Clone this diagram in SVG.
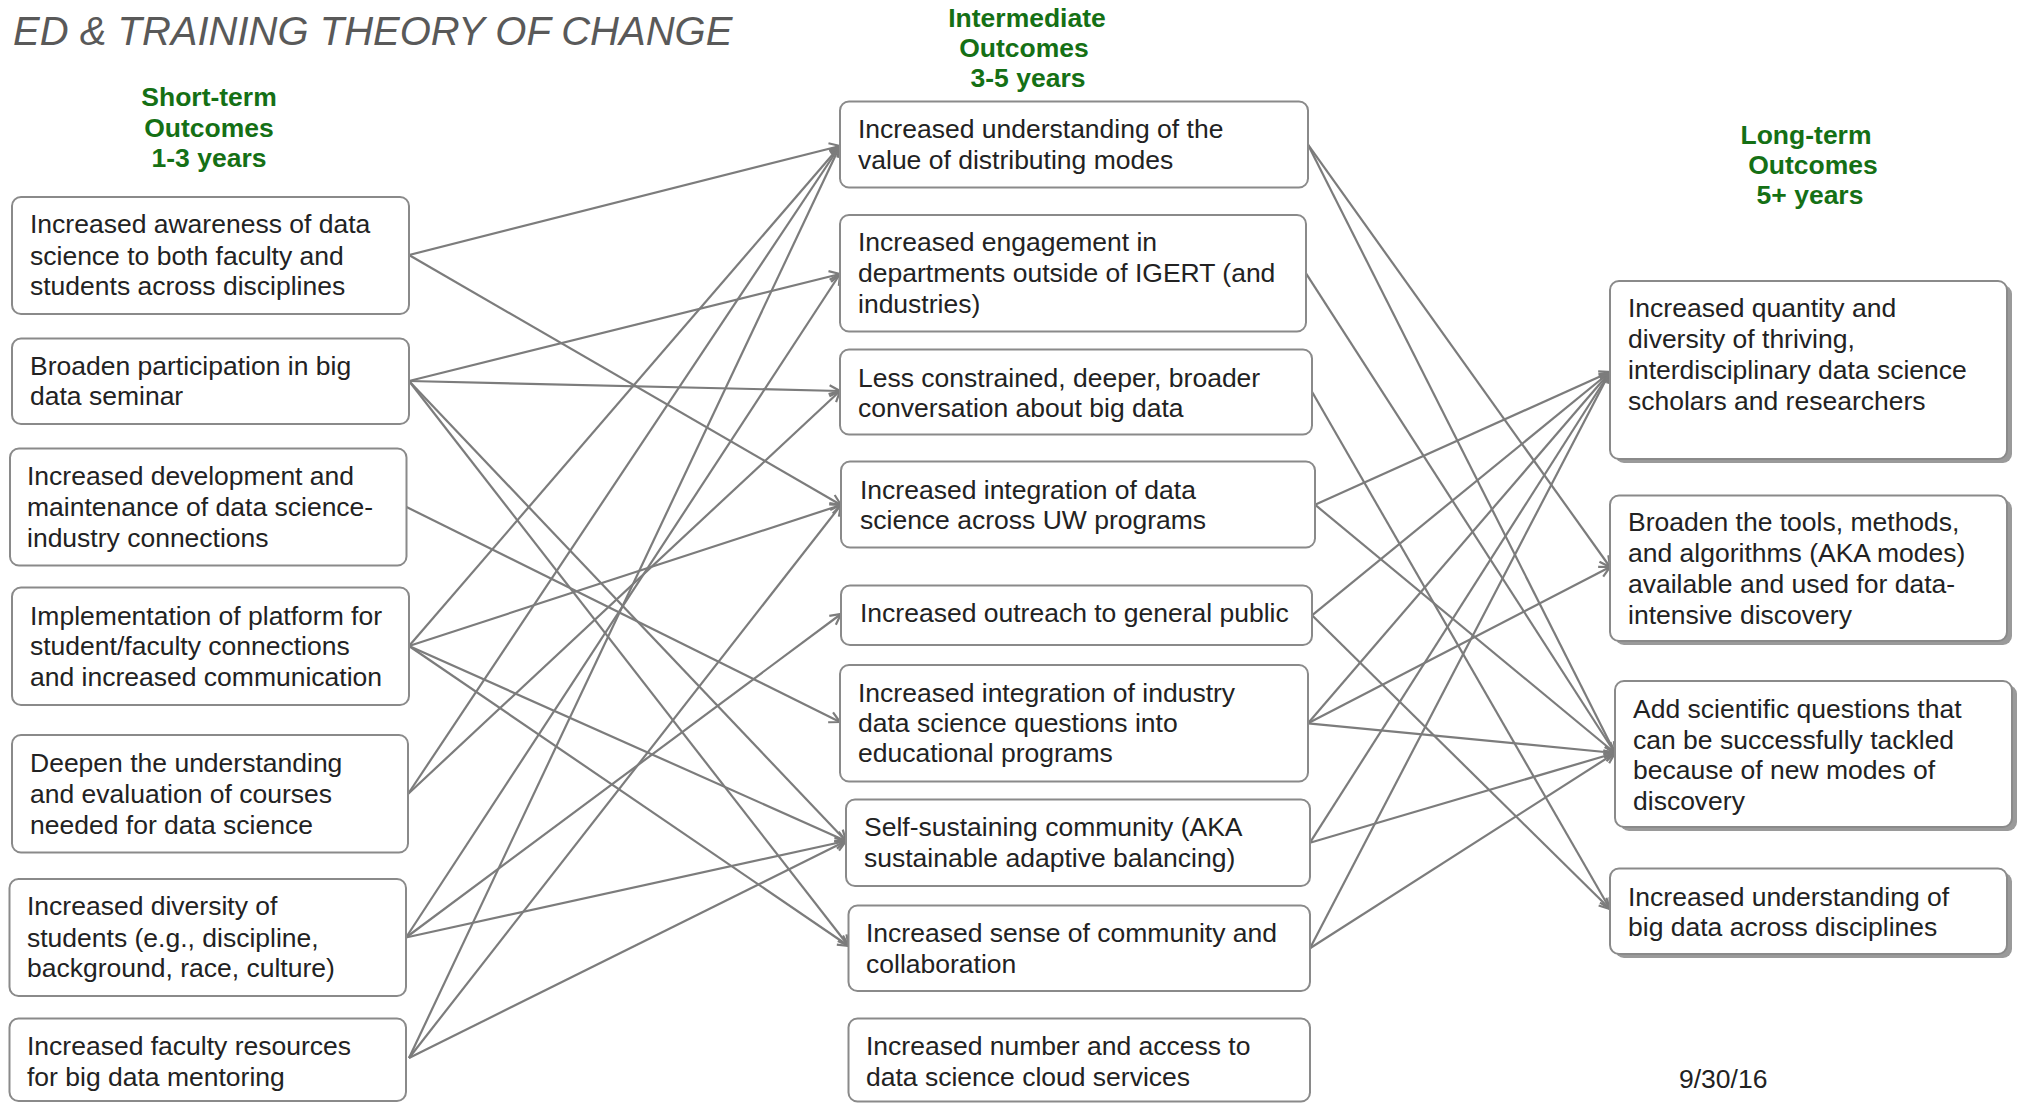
<svg xmlns="http://www.w3.org/2000/svg" width="2025" height="1103" viewBox="0 0 2025 1103">
<style>
.box{fill:#fff;stroke:#8a8a8a;stroke-width:2}
.shadow{fill:#9a9a9a;stroke:none}
.t{font-family:"Liberation Sans",Arial,sans-serif;font-size:26.5px;fill:#222}
.h{font-family:"Liberation Sans",Arial,sans-serif;font-size:26.5px;font-weight:bold;fill:#157015;text-anchor:middle}
.title{font-family:"Liberation Sans",Arial,sans-serif;font-size:40px;font-style:italic;fill:#595959}
.c{stroke:#7c7c7c;stroke-width:2.2;fill:none;marker-end:url(#arr)}
</style>
<defs>
<marker id="arr" markerUnits="userSpaceOnUse" markerWidth="14" markerHeight="14" refX="12" refY="7" orient="auto">
<path d="M1.5,1.5 L12,7 L1.5,12.5" fill="none" stroke="#7c7c7c" stroke-width="2.2"/>
</marker>
</defs>
<rect width="2025" height="1103" fill="#fff"/>
<text class="title" x="13" y="45">ED &amp; TRAINING THEORY OF CHANGE</text>
<g id="headings">
<text class="h" x="209" y="106">Short-term</text>
<text class="h" x="209" y="137">Outcomes</text>
<text class="h" x="209" y="167">1-3 years</text>
<text class="h" x="1027" y="27">Intermediate</text>
<text class="h" x="1024" y="57">Outcomes</text>
<text class="h" x="1028" y="87">3-5 years</text>
<text class="h" x="1806" y="144">Long-term</text>
<text class="h" x="1813" y="174">Outcomes</text>
<text class="h" x="1810" y="204">5+ years</text>
</g>
<g id="connectors">
<line class="c" x1="409" y1="255" x2="840" y2="146"/>
<line class="c" x1="409" y1="255" x2="841" y2="505"/>
<line class="c" x1="409" y1="381" x2="840" y2="274"/>
<line class="c" x1="409" y1="381" x2="840" y2="391"/>
<line class="c" x1="409" y1="381" x2="846" y2="841"/>
<line class="c" x1="409" y1="381" x2="848.6" y2="946"/>
<line class="c" x1="406.5" y1="507" x2="840" y2="722"/>
<line class="c" x1="409" y1="646" x2="840" y2="146"/>
<line class="c" x1="409" y1="646" x2="841" y2="505"/>
<line class="c" x1="409" y1="646" x2="846" y2="841"/>
<line class="c" x1="409" y1="646" x2="848.6" y2="946"/>
<line class="c" x1="408" y1="794" x2="840" y2="146"/>
<line class="c" x1="408" y1="794" x2="840" y2="391"/>
<line class="c" x1="406" y1="937.5" x2="840" y2="274"/>
<line class="c" x1="406" y1="937.5" x2="841" y2="614"/>
<line class="c" x1="406" y1="937.5" x2="846" y2="841"/>
<line class="c" x1="409" y1="1058" x2="840" y2="146"/>
<line class="c" x1="409" y1="1058" x2="841" y2="505"/>
<line class="c" x1="409" y1="1058" x2="846" y2="841"/>
<line class="c" x1="1308" y1="144.7" x2="1610" y2="567"/>
<line class="c" x1="1308" y1="144.7" x2="1615" y2="753"/>
<line class="c" x1="1306" y1="273.3" x2="1615" y2="753"/>
<line class="c" x1="1312" y1="391.8" x2="1610" y2="909"/>
<line class="c" x1="1315" y1="504.7" x2="1610" y2="372"/>
<line class="c" x1="1315" y1="504.7" x2="1615" y2="753"/>
<line class="c" x1="1312" y1="615.3" x2="1610" y2="372"/>
<line class="c" x1="1312" y1="615.3" x2="1610" y2="909"/>
<line class="c" x1="1308" y1="723.3" x2="1610" y2="372"/>
<line class="c" x1="1308" y1="723.3" x2="1610" y2="567"/>
<line class="c" x1="1308" y1="723.3" x2="1615" y2="753"/>
<line class="c" x1="1310" y1="842.7" x2="1610" y2="372"/>
<line class="c" x1="1310" y1="842.7" x2="1615" y2="753"/>
<line class="c" x1="1310" y1="948.3" x2="1610" y2="372"/>
<line class="c" x1="1310" y1="948.3" x2="1615" y2="753"/>
</g>
<g id="L1"><rect class="box" x="12" y="197" width="397" height="117" rx="9"/>
<text class="t" x="30" y="233">Increased awareness of data</text>
<text class="t" x="30" y="264.5">science to both faculty and</text>
<text class="t" x="30" y="295">students across disciplines</text></g>
<g id="L2"><rect class="box" x="12" y="338.5" width="397" height="85.5" rx="9"/>
<text class="t" x="30" y="375">Broaden participation in big</text>
<text class="t" x="30" y="405">data seminar</text></g>
<g id="L3"><rect class="box" x="10" y="448.5" width="396.5" height="117" rx="9"/>
<text class="t" x="27" y="485">Increased development and</text>
<text class="t" x="27" y="516">maintenance of data science-</text>
<text class="t" x="27" y="546.5">industry connections</text></g>
<g id="L4"><rect class="box" x="12" y="587.5" width="397" height="117.5" rx="9"/>
<text class="t" x="30" y="625">Implementation of platform for</text>
<text class="t" x="30" y="655">student/faculty connections</text>
<text class="t" x="30" y="685.5">and increased communication</text></g>
<g id="L5"><rect class="box" x="12" y="735" width="396" height="117.5" rx="9"/>
<text class="t" x="30" y="771.5">Deepen the understanding</text>
<text class="t" x="30" y="802.5">and evaluation of courses</text>
<text class="t" x="30" y="833.5">needed for data science</text></g>
<g id="L6"><rect class="box" x="9.5" y="879" width="396.5" height="117" rx="9"/>
<text class="t" x="27" y="915">Increased diversity of</text>
<text class="t" x="27" y="946.5">students (e.g., discipline,</text>
<text class="t" x="27" y="977">background, race, culture)</text></g>
<g id="L7"><rect class="box" x="9.5" y="1018.5" width="396.5" height="82.5" rx="9"/>
<text class="t" x="27" y="1055">Increased faculty resources</text>
<text class="t" x="27" y="1086">for big data mentoring</text></g>
<g id="M1"><rect class="box" x="840" y="101.5" width="468" height="86" rx="9"/>
<text class="t" x="858" y="138">Increased understanding of the</text>
<text class="t" x="858" y="168.5">value of distributing modes</text></g>
<g id="M2"><rect class="box" x="840" y="215" width="466" height="116.5" rx="9"/>
<text class="t" x="858" y="251">Increased engagement in</text>
<text class="t" x="858" y="281.5">departments outside of IGERT (and</text>
<text class="t" x="858" y="312.5">industries)</text></g>
<g id="M3"><rect class="box" x="840" y="349.5" width="472" height="85" rx="9"/>
<text class="t" x="858" y="386.5">Less constrained, deeper, broader</text>
<text class="t" x="858" y="416.5">conversation about big data</text></g>
<g id="M4"><rect class="box" x="841" y="461.5" width="474" height="86" rx="9"/>
<text class="t" x="860" y="498.5">Increased integration of data</text>
<text class="t" x="860" y="528.5">science across UW programs</text></g>
<g id="M5"><rect class="box" x="841" y="585.5" width="471" height="59.5" rx="9"/>
<text class="t" x="860" y="621.5">Increased outreach to general public</text></g>
<g id="M6"><rect class="box" x="840" y="665" width="468" height="116.5" rx="9"/>
<text class="t" x="858" y="701.5">Increased integration of industry</text>
<text class="t" x="858" y="731.5">data science questions into</text>
<text class="t" x="858" y="762">educational programs</text></g>
<g id="M7"><rect class="box" x="846" y="799.5" width="464" height="86.5" rx="9"/>
<text class="t" x="864" y="836">Self-sustaining community (AKA</text>
<text class="t" x="864" y="866.5">sustainable adaptive balancing)</text></g>
<g id="M8"><rect class="box" x="848.5" y="905.5" width="461.5" height="85.5" rx="9"/>
<text class="t" x="866" y="942">Increased sense of community and</text>
<text class="t" x="866" y="972.5">collaboration</text></g>
<g id="M9"><rect class="box" x="848.5" y="1018.5" width="461.5" height="83" rx="9"/>
<text class="t" x="866" y="1055">Increased number and access to</text>
<text class="t" x="866" y="1085.5">data science cloud services</text></g>
<g id="R1"><rect class="shadow" x="1615" y="285" width="397" height="178" rx="9"/>
<rect class="box" x="1610" y="281" width="397" height="178" rx="9"/>
<text class="t" x="1628" y="317">Increased quantity and</text>
<text class="t" x="1628" y="348">diversity of thriving,</text>
<text class="t" x="1628" y="379">interdisciplinary data science</text>
<text class="t" x="1628" y="409.5">scholars and researchers</text></g>
<g id="R2"><rect class="shadow" x="1615" y="499.5" width="397" height="145.5" rx="9"/>
<rect class="box" x="1610" y="495.5" width="397" height="145.5" rx="9"/>
<text class="t" x="1628" y="530.5">Broaden the tools, methods,</text>
<text class="t" x="1628" y="562">and algorithms (AKA modes)</text>
<text class="t" x="1628" y="593">available and used for data-</text>
<text class="t" x="1628" y="624">intensive discovery</text></g>
<g id="R3"><rect class="shadow" x="1620" y="685" width="397" height="146" rx="9"/>
<rect class="box" x="1615" y="681" width="397" height="146" rx="9"/>
<text class="t" x="1633" y="718">Add scientific questions that</text>
<text class="t" x="1633" y="748.5">can be successfully tackled</text>
<text class="t" x="1633" y="779">because of new modes of</text>
<text class="t" x="1633" y="809.5">discovery</text></g>
<g id="R4"><rect class="shadow" x="1615" y="872.5" width="397" height="85.5" rx="9"/>
<rect class="box" x="1610" y="868.5" width="397" height="85.5" rx="9"/>
<text class="t" x="1628" y="906">Increased understanding of</text>
<text class="t" x="1628" y="935.5">big data across disciplines</text></g>
<text class="t" x="1679" y="1087.5">9/30/16</text>
</svg>
